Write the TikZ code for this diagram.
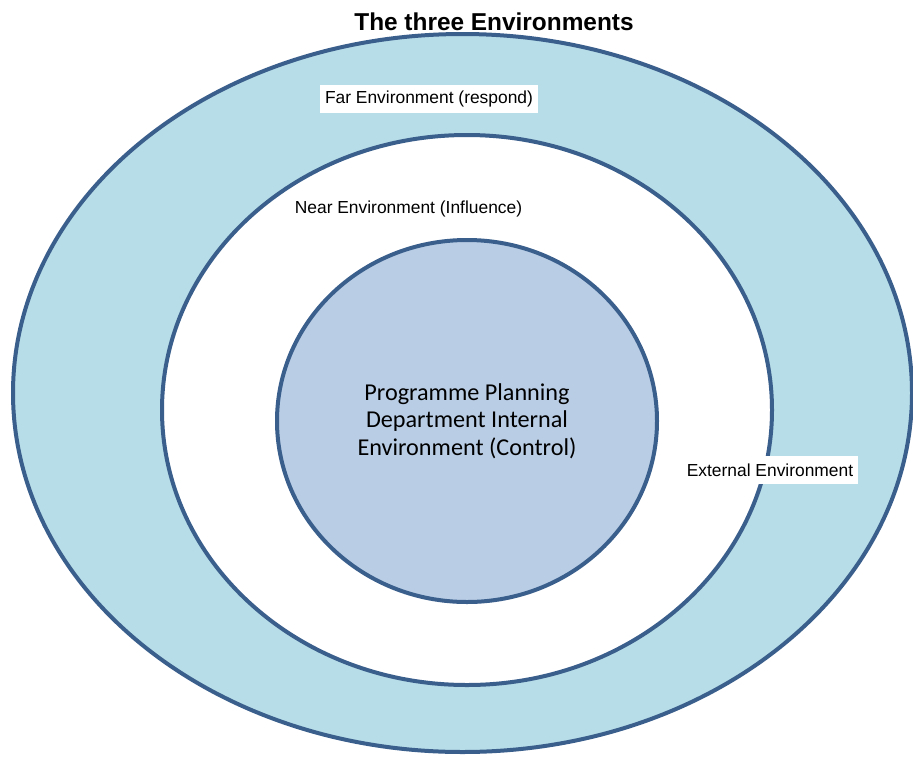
\documentclass[tikz,border=0pt]{standalone}
\usepackage{fontspec}
\setmainfont{Liberation Sans}
\newfontfamily\calibrifont{Carlito}
\usepackage{xcolor}
\usepackage{tikz}

\definecolor{ringblue}{HTML}{B7DDE8}
\definecolor{coreblue}{HTML}{B9CDE5}
\definecolor{edgeblue}{HTML}{3A5F8C}

\tikzset{
  envlabel/.style={fill=white, inner xsep=5pt, inner ysep=0pt, minimum height=28pt,
    font=\fontsize{17.4}{20}\selectfont},
}

\begin{document}
\begin{tikzpicture}[x=1pt,y=-1pt,every node/.style={transform shape}]
\useasboundingbox (0,0) rectangle (913,756);
\clip (0,0) rectangle (913,756);

\filldraw[fill=ringblue, draw=edgeblue, line width=4pt] (462.5,393) ellipse (449.5 and 359);
\filldraw[fill=white, draw=edgeblue, line width=4pt] (467,410) ellipse (305 and 275);
\filldraw[fill=coreblue, draw=edgeblue, line width=4pt] (467,421) ellipse (190 and 181);

    \node[anchor=base, font=\bfseries\fontsize{24.4}{29}\selectfont] (title) at (494,30) {The three Environments};

    \node[envlabel] (far) at (429,98.5) {Far Environment (respond)};
    \node[anchor=base, inner sep=0pt, font=\fontsize{17.4}{20}\selectfont] (near) at (408.5,213) {Near Environment (Influence)};
    \node[envlabel] (ext) at (770,470) {External Environment};

    % the department in the middle
    \node[align=center, inner sep=0pt, font=\calibrifont\fontsize{24.2}{27.5}\selectfont] (core) at (467,421)
      {Programme Planning\\Department Internal\\Environment (Control)};

\end{tikzpicture}
\end{document}
